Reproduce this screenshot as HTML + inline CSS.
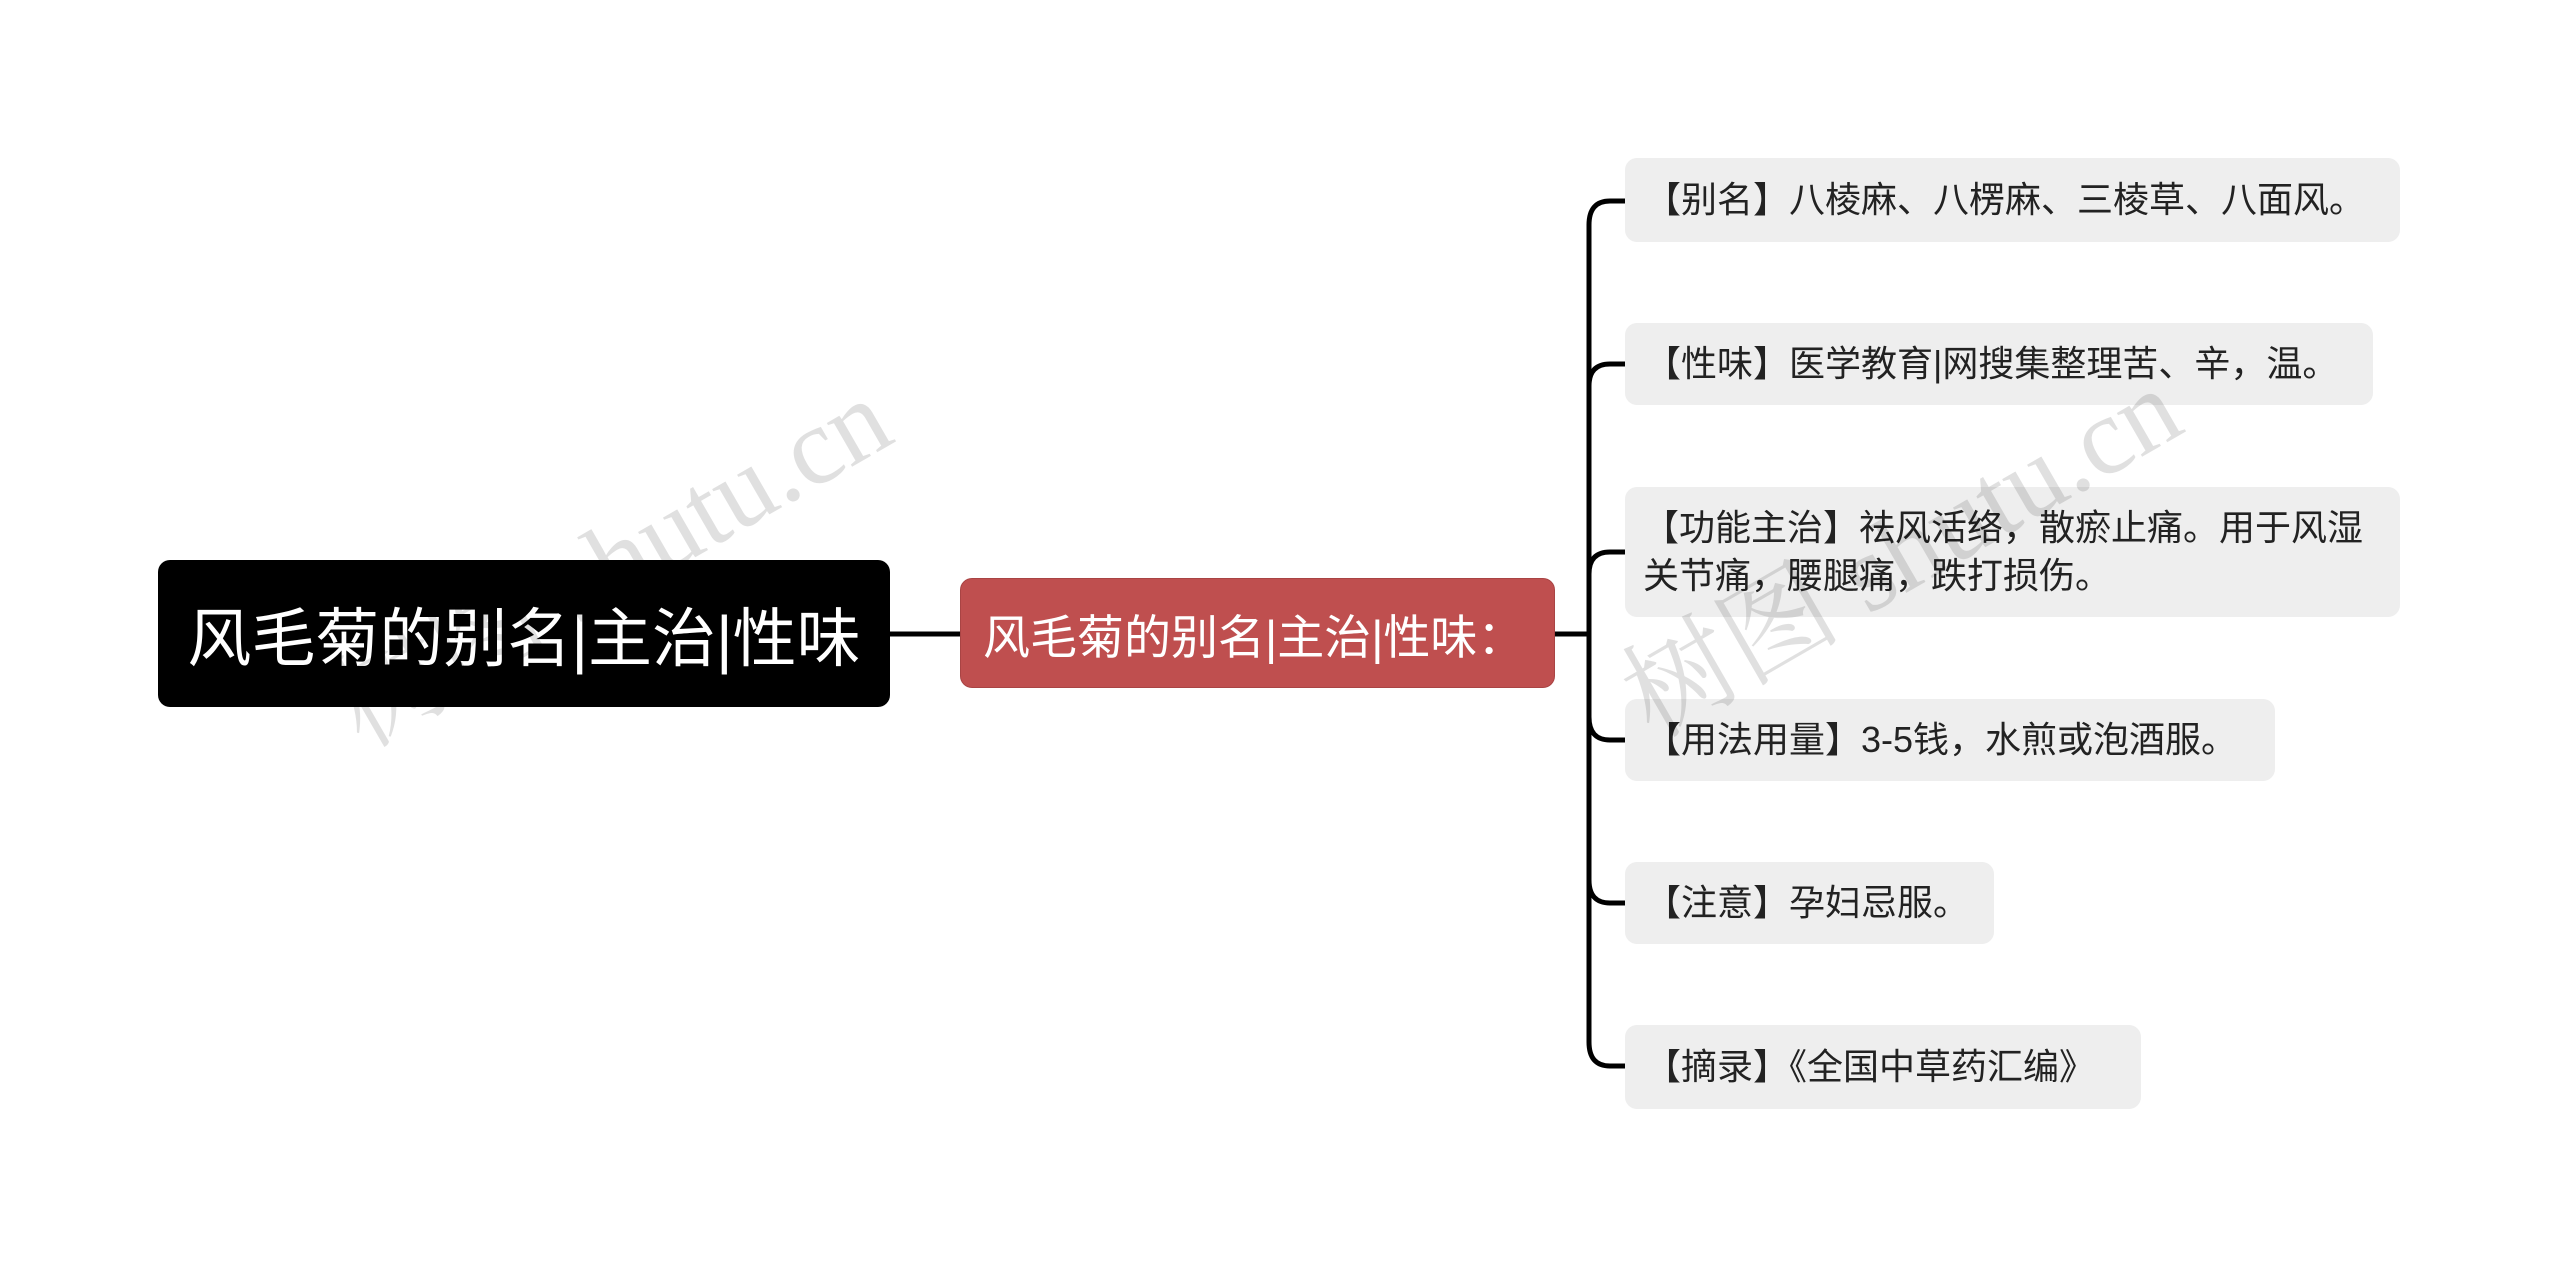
<!DOCTYPE html>
<html><head><meta charset="utf-8"><style>
body{margin:0;width:2560px;height:1269px;background:#fff;position:relative;overflow:hidden;font-family:"Liberation Sans","Noto Sans CJK SC",sans-serif}
.n{position:absolute;box-sizing:border-box;display:flex;align-items:center}
.root{left:158px;top:560px;width:732px;height:147px;background:#000;color:#fff;border-radius:12px;font-size:64px;justify-content:center}
.sub{left:960px;top:578px;width:595px;height:110px;background:#bf4f4f;color:#fff;border-radius:12px;font-size:47px;padding-left:22px;border:1px solid #a94444;white-space:nowrap}
.leaf{left:1625px;background:#eeeeee;color:#222;border-radius:12px;font-size:36px;padding-left:20px;white-space:nowrap;line-height:48px}
.wm{position:absolute;color:rgba(0,0,0,0.12);font-family:"Liberation Serif","Noto Serif CJK SC",serif;font-size:110px;transform:rotate(-30deg);transform-origin:left top;white-space:nowrap}
</style></head><body>
<svg width="2560" height="1269" style="position:absolute;left:0;top:0">
<g fill="none" stroke="#000" stroke-width="5">
<line x1="890" y1="634" x2="960" y2="634"/>
<line x1="1555" y1="634" x2="1589" y2="634"/>
<path d="M1625 201 H1610 Q1589 201 1589 225 V1042 Q1589 1066 1610 1066 H1625"/>
<path d="M1589 386 Q1589 364 1610 364 H1625"/>
<path d="M1589 574 Q1589 552 1610 552 H1625"/>
<path d="M1589 717 Q1589 740 1610 740 H1625"/>
<path d="M1589 880 Q1589 903 1610 903 H1625"/>
</g></svg>
<div class="n root">风毛菊的别名|主治|性味</div>
<div class="n sub">风毛菊的别名|主治|性味：</div>
<div class="n leaf" style="top:158px;width:775px;height:84px">【别名】八棱麻、八楞麻、三棱草、八面风。</div>
<div class="n leaf" style="top:323px;width:748px;height:82px">【性味】医学教育|网搜集整理苦、辛，温。</div>
<div class="n leaf" style="top:487px;width:775px;height:130px;white-space:normal;padding-left:18px;padding-right:8px">【功能主治】祛风活络，散瘀止痛。用于风湿关节痛，腰腿痛，跌打损伤。</div>
<div class="n leaf" style="top:699px;width:650px;height:82px">【用法用量】3-5钱，水煎或泡酒服。</div>
<div class="n leaf" style="top:862px;width:369px;height:82px">【注意】孕妇忌服。</div>
<div class="n leaf" style="top:1025px;width:516px;height:84px">【摘录】《全国中草药汇编》</div>
<div class="wm" style="left:300px;top:640px">树图 shutu.cn</div>
<div class="wm" style="left:1590px;top:630px">树图 shutu.cn</div>
</body></html>
